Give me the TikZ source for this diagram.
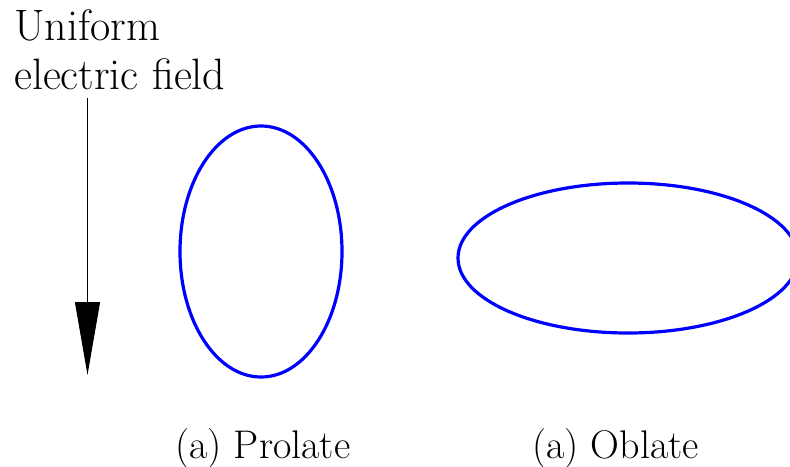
\documentclass[tikz,border=0pt]{standalone}
\usepackage{fontspec}
\usetikzlibrary{arrows.meta}
\tikzset{
  lbl/.style={anchor=base west, inner sep=0pt, font=\fontsize{40}{48}\selectfont},
  toplbl/.style={lbl, font=\fontsize{44}{48}\selectfont},
  drop/.style={blue, line width=3.2pt},
  fieldarrow/.style={black, line width=1pt, -{Triangle[length=73pt,width=25pt]}}
}
\begin{document}
\begin{tikzpicture}[x=1pt,y=-1pt]
\useasboundingbox (0,0) rectangle (790,466);
\node[toplbl] (t1) at (14,40.5) {Uniform};
\node[toplbl] (t2) at (14,89) {electric field};
\coordinate (a0) at (87.5,98);
\coordinate (a1) at (87.5,375);
\draw[fieldarrow] (a0) -- (a1);
\begin{scope}
\clip (0,0) rectangle (790,466);
\draw[drop] (261,251.5) ellipse [x radius=81, y radius=125.5];
\draw[drop] (628,258) ellipse [x radius=170, y radius=75];
\end{scope}
\node[lbl] (p) at (175,458) {(a) Prolate};
\node[lbl] (o) at (532,458) {(a) Oblate};
\end{tikzpicture}
\end{document}
